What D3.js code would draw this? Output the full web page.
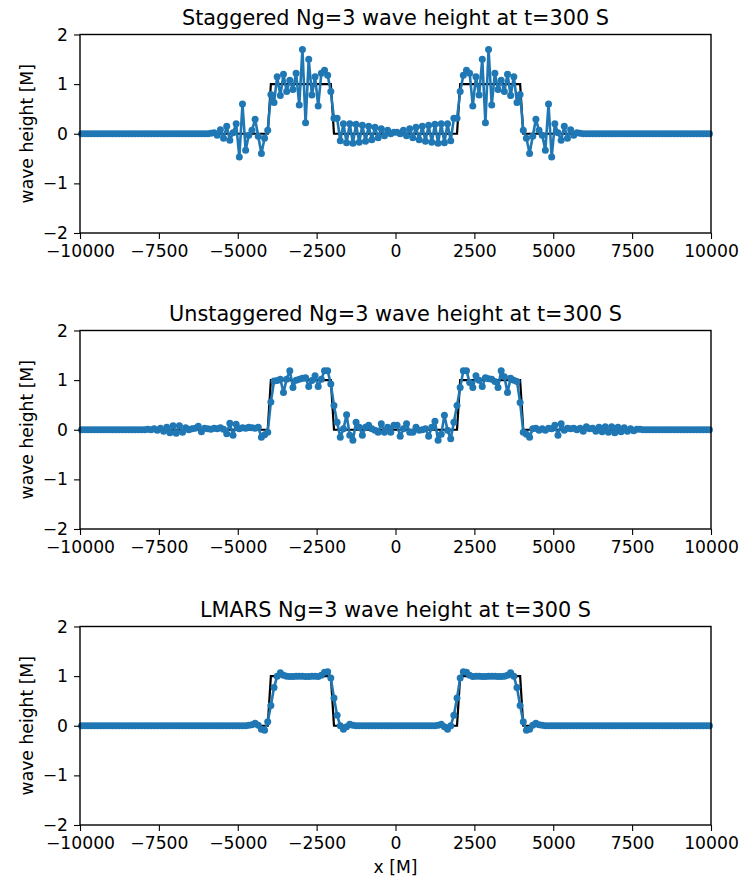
<!DOCTYPE html>
<html>
<head>
<meta charset="utf-8">
<script src="https://cdn.jsdelivr.net/npm/d3@7"></script>
<style>
body { margin: 0; background: #fff; }
text { font-family: "DejaVu Sans", sans-serif; fill: #000; }
</style>
</head>
<body>
<div id="chart"></div>
<script>
// cell centres of the grid, dx = 100 m
var xs = d3.range(-9950, 10000, 100);

// exact solution (black step)
var exactX = [-9950, -4050, -3950, -2050, -1950, 1950, 2050, 3950, 4050, 9950];
var exactY = [0, 0, 1, 1, 0, 0, 1, 1, 0, 0];

var titles = [
  "Staggered Ng=3 wave height at t=300 S",
  "Unstaggered Ng=3 wave height at t=300 S",
  "LMARS Ng=3 wave height at t=300 S"
];

var xTicks = [-10000, -7500, -5000, -2500, 0, 2500, 5000, 7500, 10000];
var yTicks = [-2, -1, 0, 1, 2];

var staggered = [
  0, 0, 0, 0, 0, 0, 0, 0, 0, 0, 0, 0, 0, 0, 0, 0, 0, 0, 0, 0,
  0, 0, 0, 0, 0, 0, 0, 0, 0, 0, 0, 0, 0, 0, 0, 0, 0, 0, 0, 0,
  0, 0.01, 0.02, -0.03, 0.08, -0.09, 0.15, -0.13, 0.02, 0.2,
  -0.47, 0.6, -0.33, -0.03, 0.07, 0.29, -0.05, -0.4, -0.09, 0.07,
  0.79, 0.63, 1.15, 0.77, 1.2, 0.85, 1.08, 0.89, 1.22, 0.58,
  1.7, 0.22, 1.5, 0.78, 1.15, 0.56, 1.22, 1.28, 1.18, 0.85,
  0.31, 0.31, -0.14, 0.2, -0.18, 0.2, -0.19, 0.19, -0.17, 0.17,
  -0.15, 0.15, -0.12, 0.13, -0.08, 0.1, -0.04, 0.07, 0.0, 0.03,
  0.03, 0.0, 0.07, -0.04, 0.1, -0.08, 0.13, -0.12, 0.15, -0.15,
  0.17, -0.17, 0.19, -0.19, 0.2, -0.18, 0.2, -0.14, 0.31, 0.31,
  0.85, 1.18, 1.28, 1.22, 0.56, 1.15, 0.78, 1.5, 0.22, 1.7,
  0.58, 1.22, 0.89, 1.08, 0.85, 1.2, 0.77, 1.15, 0.63, 0.79,
  0.07, -0.09, -0.4, -0.05, 0.29, 0.07, -0.03, -0.33, 0.6, -0.47,
  0.2, 0.02, -0.13, 0.15, -0.09, 0.08, -0.03, 0.02, 0.01, 0,
  0, 0, 0, 0, 0, 0, 0, 0, 0, 0, 0, 0, 0, 0, 0, 0, 0, 0, 0, 0,
  0, 0, 0, 0, 0, 0, 0, 0, 0, 0, 0, 0, 0, 0, 0, 0, 0, 0, 0, 0
];

var unstaggered = [
  0, 0, 0, 0, 0, 0, 0, 0, 0, 0, 0, 0, 0, 0, 0, 0, 0, 0, 0, 0,
  0, 0.01, 0, 0.02, -0.01, 0.03, -0.03, 0.05, -0.06, 0.08,
  -0.07, 0.08, -0.05, 0.04, 0.0, 0.02, 0.03, 0.07, -0.04, 0.03,
  0.02, 0.01, 0.03, 0.02, 0.04, 0.01, -0.08, 0.13, -0.11, 0.11,
  0.02, 0.04, 0.03, 0.05, 0.04, 0.03, 0.05, -0.15, -0.1, -0.05,
  0.56, 0.98, 0.99, 1.02, 0.75, 1.02, 1.19, 0.85, 1.0, 1.02,
  1.04, 1.05, 0.87, 0.99, 1.09, 0.87, 1.02, 1.19, 1.19, 0.92,
  0.49, 0.15, -0.15, 0.02, 0.3, -0.11, -0.21, 0.15, 0.05, -0.11,
  0.05, 0.09, 0.02, -0.01, -0.05, 0.12, -0.05, 0.05, -0.05, 0.09,
  0.09, -0.13, 0.02, 0.12, -0.05, -0.05, 0.05, -0.01, 0.0, 0.02,
  -0.13, 0.05, 0.17, -0.21, -0.09, 0.29, -0.01, -0.18, 0.15, 0.49,
  0.85, 1.19, 1.19, 0.95, 0.85, 1.09, 1.0, 0.87, 1.05, 1.03,
  1.02, 0.97, 0.85, 1.19, 1.07, 0.75, 1.04, 1.0, 0.97, 0.55,
  -0.05, -0.09, -0.15, 0.02, 0.03, -0.01, 0.02, -0.01, 0.03, 0.02,
  0.09, -0.11, 0.12, -0.01, 0.03, 0.02, 0.03, 0.0, 0.03, -0.03,
  0.06, 0.02, 0.03, -0.03, 0.05, -0.04, 0.06, -0.05, 0.06, -0.06,
  0.05, -0.04, 0.04, -0.03, 0.02, -0.02, 0.01, 0.01, 0, 0,
  0, 0, 0, 0, 0, 0, 0, 0, 0, 0, 0, 0, 0, 0, 0, 0, 0, 0, 0, 0
];

var lmars = [
  0, 0, 0, 0, 0, 0, 0, 0, 0, 0, 0, 0, 0, 0, 0, 0, 0, 0, 0, 0,
  0, 0, 0, 0, 0, 0, 0, 0, 0, 0, 0, 0, 0, 0, 0, 0, 0, 0, 0, 0,
  0, 0, 0, 0, 0, 0, 0, 0, 0, 0, 0, 0, 0, 0.01, 0.02, 0.05, 0.01, -0.07, -0.09, 0.08,
  0.41, 0.77, 1.0, 1.07, 1.02, 1.0, 0.99, 0.99, 1.0, 1.0,
  1.0, 0.99, 0.99, 1.0, 1.0, 0.99, 1.02, 1.08, 1.09, 0.96,
  0.56, 0.21, 0.0, -0.07, -0.02, 0.03, 0.01, 0, 0, 0,
  0, 0, 0, 0, 0, 0, 0, 0, 0, 0, 0, 0, 0, 0, 0, 0, 0, 0, 0, 0,
  0, 0, 0, 0.01, 0.03, -0.02, -0.07, 0.0, 0.21, 0.56,
  0.96, 1.09, 1.08, 1.02, 0.99, 1.0, 1.0, 0.99, 0.99, 1.0,
  1.0, 1.0, 0.99, 0.99, 1.0, 1.02, 1.07, 1.0, 0.77, 0.41,
  0.08, -0.09, -0.07, 0.01, 0.05, 0.02, 0.01, 0, 0, 0,
  0, 0, 0, 0, 0, 0, 0, 0, 0, 0, 0, 0, 0, 0, 0, 0, 0, 0, 0, 0,
  0, 0, 0, 0, 0, 0, 0, 0, 0, 0, 0, 0, 0, 0, 0, 0, 0, 0, 0, 0,
  0, 0, 0, 0, 0, 0, 0, 0, 0, 0, 0, 0, 0, 0, 0, 0, 0, 0, 0, 0
];

var series = [staggered, unstaggered, lmars];

var width = 742, height = 876;
var plotLeft = 80, plotRight = 711, plotH = 198.5;
var tops = [34.5, 330.5, 626.5];
var blue = "#1f77b4";

var svg = d3.select("#chart").append("svg")
  .attr("width", width)
  .attr("height", height);

var x = d3.scaleLinear().domain([-10000, 10000]).range([plotLeft, plotRight]);
var fmt = d3.format("d");

series.forEach(function (vals, i) {
  var top = tops[i];
  var y = d3.scaleLinear().domain([-2, 2]).range([top + plotH, top]);
  var g = svg.append("g");

  // exact solution
  var exact = exactX.map(function (d, j) { return [d, exactY[j]]; });
  g.append("path")
    .datum(exact)
    .attr("fill", "none")
    .attr("stroke", "#000")
    .attr("stroke-width", 2.2)
    .attr("d", d3.line().x(function (d) { return x(d[0]); }).y(function (d) { return y(d[1]); }));

  // numerical solution
  var pts = xs.map(function (d, j) { return [d, vals[j]]; });
  g.append("path")
    .datum(pts)
    .attr("fill", "none")
    .attr("stroke", blue)
    .attr("stroke-width", 2.6)
    .attr("stroke-linejoin", "round")
    .attr("d", d3.line().x(function (d) { return x(d[0]); }).y(function (d) { return y(d[1]); }));

  g.selectAll(".dot")
    .data(pts)
    .enter()
    .append("circle")
    .attr("class", "dot")
    .attr("cx", function (d) { return x(d[0]); })
    .attr("cy", function (d) { return y(d[1]); })
    .attr("r", 3.5)
    .attr("fill", blue);

  // axes
  var ax = g.append("g")
    .attr("transform", "translate(0," + (top + plotH) + ")")
    .call(d3.axisBottom(x).tickValues(xTicks).tickFormat(fmt).tickSize(6).tickSizeOuter(0).tickPadding(6));
  var ay = g.append("g")
    .attr("transform", "translate(" + plotLeft + ",0)")
    .call(d3.axisLeft(y).tickValues(yTicks).tickFormat(fmt).tickSize(6).tickSizeOuter(0).tickPadding(6));
  [ax, ay].forEach(function (a) {
    a.select(".domain").remove();
    a.selectAll("line").attr("stroke", "#000").attr("stroke-width", 1.1);
    a.selectAll("text")
      .style("font-family", "'DejaVu Sans', sans-serif")
      .style("font-size", "17.2px")
      .attr("fill", "#000");
  });

  // frame
  g.append("rect")
    .attr("x", plotLeft)
    .attr("y", top)
    .attr("width", plotRight - plotLeft)
    .attr("height", plotH)
    .attr("fill", "none")
    .attr("stroke", "#000")
    .attr("stroke-width", 1.4);

  g.append("text")
    .attr("x", (plotLeft + plotRight) / 2)
    .attr("y", top - 10)
    .attr("text-anchor", "middle")
    .style("font-size", "20.8px")
    .text(titles[i]);

  g.append("text")
    .attr("transform", "translate(33," + (top + plotH / 2) + ") rotate(-90)")
    .attr("text-anchor", "middle")
    .style("font-size", "17.2px")
    .text("wave height [M]");
});

svg.append("text")
  .attr("x", (plotLeft + plotRight) / 2)
  .attr("y", 873)
  .attr("text-anchor", "middle")
  .style("font-size", "17.2px")
  .text("x [M]");
</script>
</body>
</html>
